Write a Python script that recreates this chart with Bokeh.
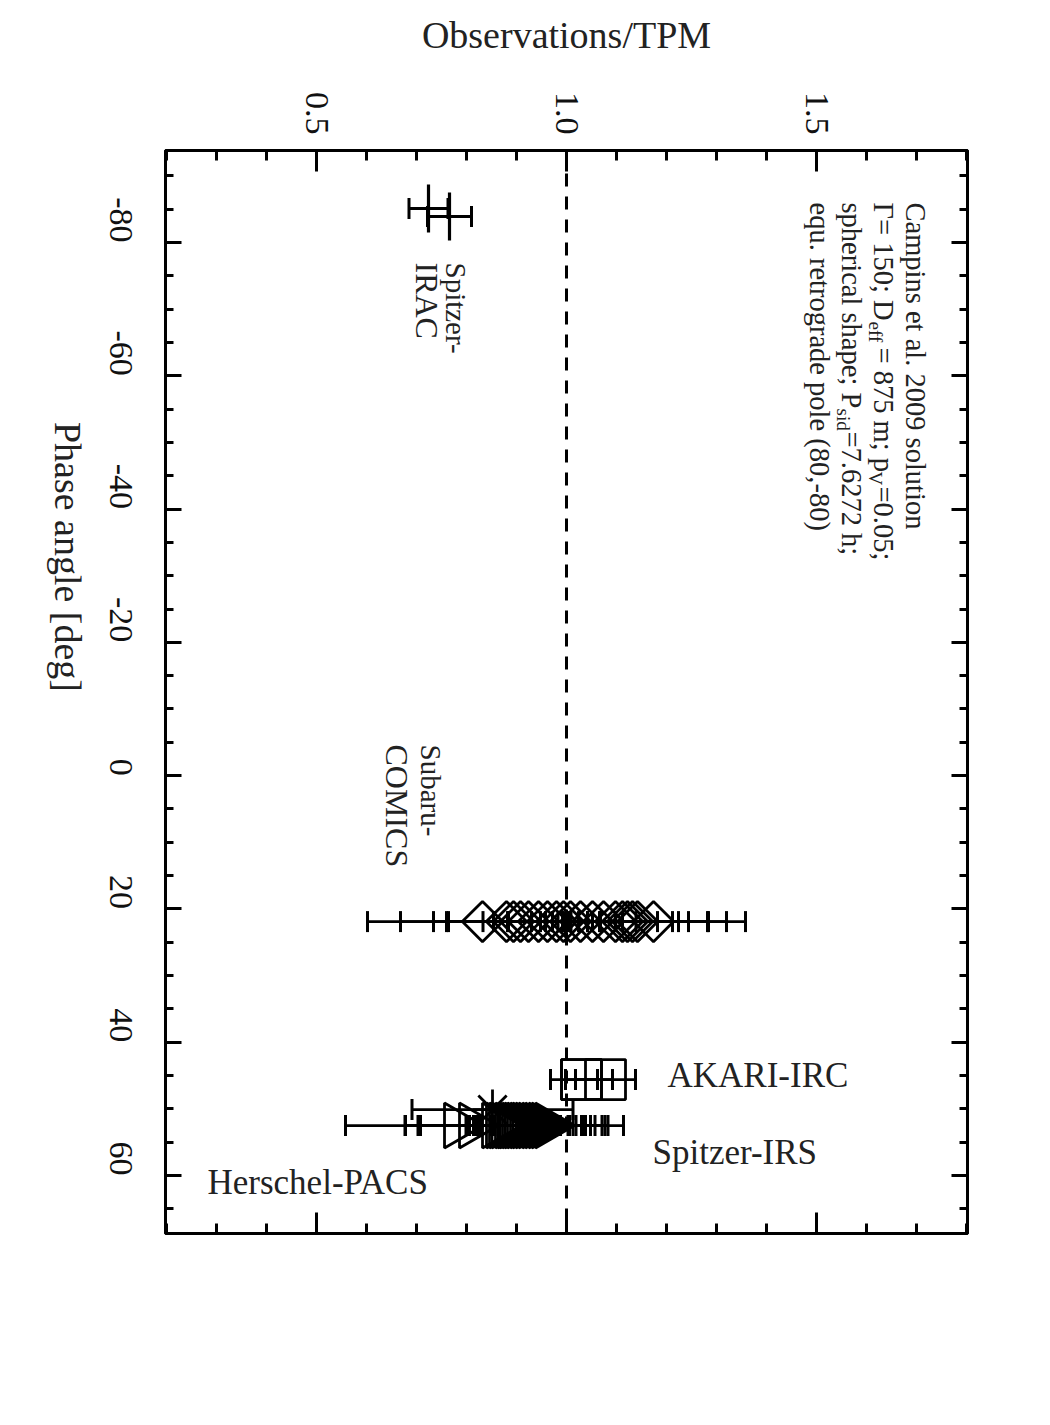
import math
import numpy as np
from bokeh.plotting import figure
from bokeh.models import Range1d, LinearAxis, SingleIntervalTicker, Span
from bokeh.core.properties import value
from bokeh.embed import file_html
from bokeh.resources import INLINE

FONT = "Liberation Serif"

# ---------------- data ----------------
x_ticks = [0.5, 1.0, 1.5]
y_ticks = [-80, -60, -40, -20, 0, 20, 40, 60]

# Spitzer-IRAC
irac_phase = [-85.1, -83.9]
irac_ratio = [0.724, 0.766]
irac_err = [0.039, 0.044]

# Subaru-COMICS
subaru_phase = [21.9] * 19
subaru_ratio = [0.832, 0.880, 0.894, 0.908, 0.924, 0.944, 0.962, 0.980, 0.994, 1.008,
                1.028, 1.052, 1.074, 1.098, 1.112, 1.122, 1.132, 1.142, 1.174]
subaru_err = [0.098, 0.120, 0.130, 0.075, 0.070, 0.060, 0.080, 0.378, 0.326, 0.060,
              0.070, 0.060, 0.065, 0.126, 0.070, 0.122, 0.080, 0.142, 0.108]

# AKARI-IRC
akari_phase = [45.6, 45.6, 45.6]
akari_ratio = [1.030, 1.030, 1.078]
akari_err = [0.062, 0.032, 0.060]

# Herschel-PACS
pacs_phase = [50.1]
pacs_ratio = [0.852]
pacs_err = [0.161]

# Spitzer-IRS
irs_phase = [52.5] * 21
irs_ratio = [0.782, 0.812, 0.858, 0.866, 0.872, 0.877, 0.884, 0.889, 0.893, 0.898, 0.903,
             0.908, 0.914, 0.919, 0.925, 0.931, 0.938, 0.944, 0.951, 0.957, 0.964]
irs_err = [0.224, 0.104, 0.180, 0.060, 0.070, 0.200, 0.080, 0.090, 0.190, 0.070, 0.100,
           0.080, 0.090, 0.100, 0.105, 0.082, 0.110, 0.090, 0.120, 0.100, 0.150]

# ---------------- figure ----------------
X0, X1 = 0.198, 1.802
Y0, Y1 = -93.8, 68.7
FW, FH = 802, 1083
LEFT, TOP = 165, 150

p = figure(frame_width=FW, frame_height=FH,
           x_range=Range1d(X0, X1), y_range=Range1d(Y1, Y0),
           x_axis_location="above", y_axis_location="left",
           toolbar_location=None, output_backend="svg",
           min_border_left=LEFT, min_border_top=TOP,
           min_border_right=60, min_border_bottom=40)
p.xgrid.visible = False
p.ygrid.visible = False
p.outline_line_color = "black"
p.outline_line_width = 3
p.background_fill_color = "white"
p.border_fill_color = "white"


def px_x(px):
    """page pixel column -> data x (for placing text labels)"""
    return X0 + (px - LEFT) * (X1 - X0) / FW


def px_y(py):
    """page pixel row -> data y (for placing text labels)"""
    return Y0 + (py - TOP) * (Y1 - Y0) / FH


def style_axis(ax, interval, nminor, major_len, minor_len, ticks, show_labels):
    ax.ticker = SingleIntervalTicker(interval=interval, num_minor_ticks=nminor)
    ax.axis_line_width = 3
    ax.axis_line_color = "black"
    ax.major_tick_in = major_len
    ax.major_tick_out = 0
    ax.minor_tick_in = minor_len
    ax.minor_tick_out = 0
    ax.major_tick_line_width = 3
    ax.minor_tick_line_width = 3
    ax.major_tick_line_color = "black"
    ax.minor_tick_line_color = "black"
    if show_labels:
        ax.major_label_overrides = {t: (f"{t:.1f}" if isinstance(t, float) else str(t)) for t in ticks}
    else:
        ax.major_label_overrides = {t: "" for t in ticks}
    ax.major_label_text_font = FONT
    ax.major_label_text_font_size = "34px"
    ax.major_label_text_color = "#111111"
    ax.axis_label_text_font = FONT
    ax.axis_label_text_font_size = "38px"
    ax.axis_label_text_font_style = "normal"
    ax.axis_label_text_color = "#222222"


# top axis (Observations/TPM)
xa = p.xaxis[0]
style_axis(xa, 0.5, 5, 21, 10, x_ticks, True)
xa.axis_label = "Observations/TPM"
xa.major_label_orientation = -math.pi / 2
xa.major_label_standoff = 16
xa.axis_label_standoff = 33

# left axis (Phase angle)
ya = p.yaxis[0]
style_axis(ya, 20, 4, 16, 8, y_ticks, True)
ya.axis_label = "Phase angle [deg]"
ya.major_label_orientation = -math.pi / 2
ya.major_label_standoff = 45
ya.axis_label_standoff = 28
if "axis_label_orientation" in LinearAxis.properties():
    ya.axis_label_orientation = -math.pi / 2

# mirrored axes without labels
xb = LinearAxis()
style_axis(xb, 0.5, 5, 21, 10, x_ticks, False)
p.add_layout(xb, "below")
yr = LinearAxis()
style_axis(yr, 20, 4, 16, 8, y_ticks, False)
p.add_layout(yr, "right")

# dashed reference line at ratio 1
p.add_layout(Span(location=1.0, dimension="height", line_color="black",
                  line_width=3, line_dash="13 10"))


def errorbars(ratio, err, phase, cap=21):
    lo = [r - e for r, e in zip(ratio, err)]
    hi = [r + e for r, e in zip(ratio, err)]
    p.segment(x0=lo, y0=phase, x1=hi, y1=phase, line_color="black", line_width=2.8)
    p.scatter(x=lo + hi, y=list(phase) + list(phase), marker="dash", angle=math.pi / 2,
              size=cap, line_color="black", line_width=3)


errorbars(irac_ratio, irac_err, irac_phase)
p.scatter(x=irac_ratio, y=irac_phase, marker="dash", angle=math.pi / 2, size=48,
          line_color="black", line_width=3.2)

errorbars(subaru_ratio, subaru_err, subaru_phase)
p.scatter(x=subaru_ratio, y=subaru_phase, marker="square", angle=math.pi / 4, size=28.5,
          line_color="black", line_width=2.8, fill_alpha=0)

errorbars(akari_ratio, akari_err, akari_phase)
p.scatter(x=akari_ratio, y=akari_phase, marker="square", size=40,
          line_color="black", line_width=2.8, fill_alpha=0)

errorbars(pacs_ratio, pacs_err, pacs_phase)
p.scatter(x=pacs_ratio, y=pacs_phase, marker="asterisk", size=40,
          line_color="black", line_width=2.8)

errorbars(irs_ratio, irs_err, irs_phase)
p.scatter(x=irs_ratio, y=irs_phase, marker="triangle", angle=-math.pi / 2, size=45,
          line_color="black", line_width=2.8, fill_alpha=0)


# ---------------- texts ----------------
def txt(px, py, s, size, angle=0.0, color="#222222"):
    p.text(x=[px_x(px)], y=[px_y(py)], text=[s], angle=angle, text_font=value(FONT),
           text_font_size=size, text_align="left", text_baseline="alphabetic",
           text_color=color)


ROT = -math.pi / 2
# model description (baselines in page pixel columns, start rows)
B1, B2, B3, B4 = 915, 883, 851, 819
SUB = 8
txt(B1, 202, "Campins et al. 2009 solution", "28.5px", ROT)
txt(B2, 202, "\u0393= 150; D", "28.5px", ROT)
txt(B2 - SUB, 321, "eff", "19px", ROT)
txt(B2, 347, "= 875 m; p", "28.5px", ROT)
txt(B2 - SUB, 471, "V", "19px", ROT)
txt(B2, 486, "=0.05;", "28.5px", ROT)
txt(B3, 202, "spherical shape; P", "28.5px", ROT)
txt(B3 - SUB, 408, "sid", "19px", ROT)
txt(B3, 431, "=7.6272 h;", "28.5px", ROT)
txt(B4, 202, "equ. retrograde pole (80,-80)", "28.5px", ROT)

# instrument labels
txt(455, 262, "Spitzer-", "29px", ROT)
txt(426, 262, "IRAC", "32px", ROT)
txt(430, 744, "Subaru-", "29px", ROT)
txt(396, 744, "COMICS", "32px", ROT)
txt(667, 1075, "AKARI-IRC", "35px")
txt(652, 1152, "Spitzer-IRS", "35px")
txt(207, 1182, "Herschel-PACS", "35px")

open("out.html", "w").write(file_html(p, INLINE))
